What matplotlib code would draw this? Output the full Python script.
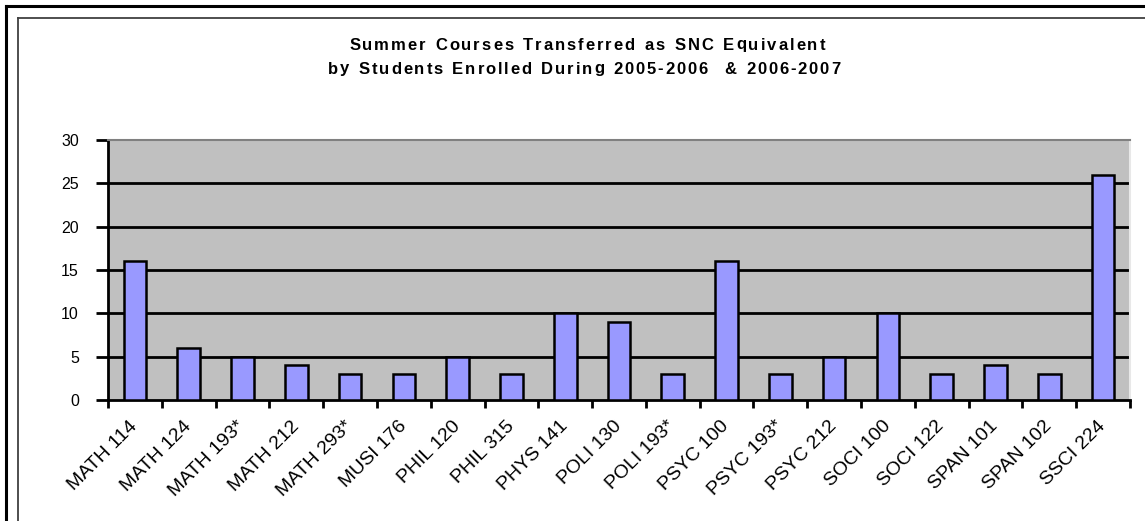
import matplotlib
matplotlib.use('Agg')
import matplotlib.pyplot as plt
from matplotlib.lines import Line2D
from matplotlib.font_manager import FontProperties
import numpy as np

# Data
courses = ['MATH 114', 'MATH 124', 'MATH 193*', 'MATH 212', 'MATH 293*', 'MUSI 176',
           'PHIL 120', 'PHIL 315', 'PHYS 141', 'POLI 130', 'POLI 193*', 'PSYC 100',
           'PSYC 193*', 'PSYC 212', 'SOCI 100', 'SOCI 122', 'SPAN 101', 'SPAN 102', 'SSCI 224']
counts = [16, 6, 5, 4, 3, 3, 5, 3, 10, 9, 3, 16, 3, 5, 10, 3, 4, 3, 26]
title_lines = ['Summer Courses Transferred as SNC Equivalent',
               'by Students Enrolled During 2005-2006  & 2006-2007']
yticks = [0, 5, 10, 15, 20, 25, 30]

plt.rcParams['font.family'] = ['Liberation Sans', 'DejaVu Sans']

W, H = 1145, 521
fig = plt.figure(figsize=(W / 100, H / 100), dpi=100)
fig.patch.set_facecolor('white')

# Double border on top/left
for off, lw, c in [(6, 2.2, 'black'), (18, 1.3, '#404040')]:
    fig.add_artist(Line2D([off / W, 1], [1 - off / H, 1 - off / H], color=c, lw=lw,
                          transform=fig.transFigure))
    fig.add_artist(Line2D([off / W, off / W], [0, 1 - off / H], color=c, lw=lw,
                          transform=fig.transFigure))

ax = fig.add_axes([108 / W, 1 - 400 / H, (1130 - 108) / W, (400 - 140) / H])
ax.set_facecolor('#C0C0C0')

x = np.arange(len(courses))
ax.bar(x, counts, width=0.42, color='#9999FF', edgecolor='black', linewidth=1.8, zorder=3)

ax.set_xlim(-0.5, len(courses) - 0.5)
ax.set_ylim(0, 30)
ax.set_yticks(yticks)
ax.set_yticklabels([str(v) for v in yticks], fontsize=11.5)
for v in yticks[1:-1]:
    ax.axhline(v, color='black', lw=2, zorder=1)

ax.set_xticks(np.arange(len(courses) + 1) - 0.5)
ax.set_xticklabels([])
ax.set_xticks(x, minor=True)
ax.set_xticklabels(courses, minor=True, rotation=45, ha='right', va='center',
                   rotation_mode='anchor', fontsize=14)
ax.tick_params(axis='x', which='minor', length=0, pad=17)
ax.tick_params(axis='x', which='major', length=6, width=2, direction='out')
ax.tick_params(axis='y', length=9, width=2, direction='out', pad=12)

ax.spines['left'].set_linewidth(2)
ax.spines['bottom'].set_linewidth(2)
ax.spines['top'].set_color('#808080')
ax.spines['top'].set_linewidth(1.5)
ax.spines['right'].set_color('#E8E8E8')
ax.spines['right'].set_linewidth(1.5)


# Title with wide letter spacing, placed char by char
def spaced_title(text, cx, cy, size, extra):
    fp = FontProperties(family='Liberation Sans', weight='bold', size=size)
    r = fig.canvas.get_renderer()
    widths = []
    for ch in text:
        w, h, d = r.get_text_width_height_descent(ch if ch != ' ' else 'n', fp, ismath=False)
        if ch == ' ':
            w = w * 0.55
        widths.append(w + extra)
    total = sum(widths) - extra
    xpos = cx - total / 2
    for ch, w in zip(text, widths):
        fig.text(xpos / W, 1 - cy / H, ch, fontproperties=fp, ha='left', va='center')
        xpos += w


spaced_title(title_lines[0], 587, 45, 12, 2.0)
spaced_title(title_lines[1], 584, 69, 12, 1.9)

fig.savefig('out.png', dpi=100)
